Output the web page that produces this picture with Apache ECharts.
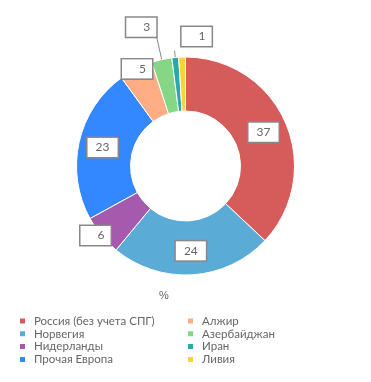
<!DOCTYPE html>
<html><head><meta charset="utf-8">
<script src="https://cdn.jsdelivr.net/npm/echarts@6/dist/echarts.min.js"></script>
<style>html,body{margin:0;padding:0;background:#fff}#c{width:371px;height:382px}</style>
</head><body><div id="c"></div>
<script>
const categories = ['Россия (без учета СПГ)','Норвегия','Нидерланды','Прочая Европа','Алжир','Азербайджан','Иран','Ливия'];
const values = [37, 24, 6, 23, 5, 3, 1, 1];
const colors = ['#d65b5b','#5aacd6','#a65aad','#3388ff','#ffad85','#85d685','#2aa9a8','#ffd333'];
const unitLabel = '%';

const labelBase = {
  formatter: '{c}',
  color: '#666', fontSize: 12, fontFamily: 'Lato, "Open Sans", sans-serif',
  backgroundColor: '#fff', borderColor: '#888', borderWidth: 1.5,
  padding: [3, 6, 2, 6], width: 18, overflow: 'none', align: 'center', lineHeight: 14
};
const labelMode = ['inside','inside','edge','inside','edge','line','lineR','lineR'];
const edgeDist = { 2: -9, 4: -16 };
const data = categories.map((n, i) => {
  const m = labelMode[i];
  const d = { name: n, value: values[i], itemStyle: { color: colors[i] } };
  if (m === 'inside') {
    d.label = Object.assign({}, labelBase, { position: 'inside' });
  } else if (m === 'edge') {
    d.label = Object.assign({}, labelBase, { position: 'outside', distanceToLabelLine: edgeDist[i] });
    d.labelLine = { show: false, length: 0, length2: 0 };
  } else if (m === 'line') {
    d.label = Object.assign({}, labelBase, { position: 'outside', distanceToLabelLine: 0, offset: [0, -8] });
    d.labelLine = { show: true, length: 25, length2: 0, lineStyle: { color: '#888', width: 1 } };
  } else {
    d.label = Object.assign({}, labelBase, { position: 'outside', distanceToLabelLine: -37, offset: [0, -14] });
    d.labelLine = { show: true, length: 7, length2: 0, lineStyle: { color: '#888', width: 1 } };
  }
  return d;
});

const legendText = { color: '#666', fontSize: 11.5, lineHeight: 12, padding: [0, 0, 0, 3], fontFamily: 'Lato, "Open Sans", sans-serif' };
const legendBase = { orient: 'vertical', top: 315, height: 66, itemWidth: 7, itemHeight: 7, itemGap: 0.8, icon: 'rect', textStyle: legendText, padding: 0 };
const chart = echarts.init(document.getElementById('c'));
chart.setOption({
  animation: false,
  title: { text: unitLabel, left: 154, top: 285, textStyle: { color: '#666', fontSize: 11, fontWeight: 'normal' } },
  legend: [
    Object.assign({ data: categories.slice(0, 4), left: 18 }, legendBase),
    Object.assign({ data: categories.slice(4), left: 186 }, legendBase)
  ],
  series: [{
    type: 'pie', center: [185.5, 166], radius: [55, 109],
    startAngle: 90, clockwise: true, avoidLabelOverlap: false,
    itemStyle: { borderColor: '#fff', borderWidth: 1 },
    emphasis: { disabled: true },
    data: data
  }]
});
</script></body></html>
